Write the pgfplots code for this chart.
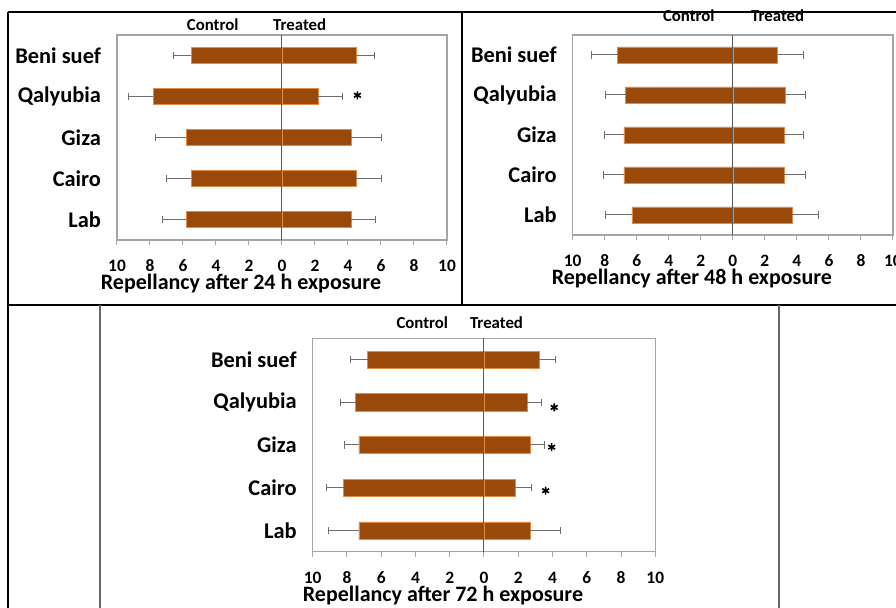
\documentclass[border=0pt]{standalone}
\usepackage{pgfplots}
\usepackage{pgfplotstable}
\pgfplotsset{compat=1.18}
\usepackage{fontspec}
\setmainfont{Carlito}

\definecolor{barfill}{RGB}{153,74,10}
\definecolor{baredge}{RGB}{225,140,70}
\definecolor{framegray}{RGB}{165,165,165}
\definecolor{errgray}{RGB}{110,110,110}

\pgfplotstableread{
y  c    ce    t    te
5  5.5  1.07  4.5  1.10
4  7.8  1.50  2.2  1.48
3  5.8  1.88  4.2  1.86
2  5.5  1.50  4.5  1.56
1  5.8  1.47  4.2  1.48
}\dataA
\pgfplotstableread{
y  c    ce    t    te
5  7.2  1.60  2.8  1.63
4  6.7  1.26  3.3  1.25
3  6.8  1.23  3.2  1.21
2  6.8  1.30  3.2  1.35
1  6.3  1.63  3.7  1.67
}\dataB
\pgfplotstableread{
y  c    ce    t    te
5  6.8  1.00  3.2  1.00
4  7.5  0.86  2.5  0.84
3  7.3  0.83  2.7  0.82
2  8.2  1.02  1.8  1.00
1  7.3  1.77  2.7  1.75
}\dataC

\tikzset{hdr/.style={font=\fontsize{8.4}{10}\selectfont\bfseries, anchor=base}}

\pgfplotsset{
  rep/.style={
    scale only axis,
    xmin=-10, xmax=10, ymin=0.5, ymax=5.5,
    xtick={-10,-8,...,10},
    xticklabels={10,8,6,4,2,0,2,4,6,8,10},
    ytick={1,2,3,4,5},
    yticklabels={Lab,Cairo\hspace{0.3em},Giza,Qalyubia,Beni suef},
    axis line style={framegray, line width=0.6pt},
    xtick pos=left,
    ytick pos=left,
    tick align=outside,
    x tick style={framegray, line width=0.5pt},
    y tick style={draw=none},
    major tick length=2.5pt,
    xticklabel style={font=\fontsize{8.7}{10}\selectfont\bfseries, anchor=base, yshift=-13.5pt},
    yticklabel style={font=\fontsize{11.2}{13}\selectfont\bfseries, anchor=east, xshift=-2pt},
    extra x ticks={0}, extra x tick labels={},
    extra x tick style={grid=major, major grid style={black!65, line width=0.5pt}, major tick length=0pt},
    axis on top,
    xlabel style={font=\fontsize{11}{13}\selectfont\bfseries, at={(axis description cs:0.5,0)}, anchor=base, yshift=-25pt, xshift=-20.5pt},
    clip=false,
  },
  ctrl/.style={xbar, bar width=0.4, bar shift=0pt, fill=barfill, draw=baredge, line width=0.3pt,
    error bars/.cd, x dir=minus, x explicit, error mark=|,
    error bar style={errgray, line width=0.5pt},
    error mark options={errgray, mark size=1.8pt, line width=0.5pt}},
  trt/.style={xbar, bar width=0.4, bar shift=0pt, fill=barfill, draw=baredge, line width=0.3pt,
    error bars/.cd, x dir=plus, x explicit, error mark=|,
    error bar style={errgray, line width=0.5pt},
    error mark options={errgray, mark size=1.8pt, line width=0.5pt}},
  star/.style={only marks, mark=asterisk, mark size=2pt, line width=0.8pt, black},
}

\begin{document}
\begin{tikzpicture}
% panel borders (1 px = 0.5pt)
\begin{scope}[x=0.5pt, y=-0.5pt]
\draw[line width=0.75pt, black] (8,12) -- (896,12);
\draw[line width=0.75pt, black] (8,305) -- (896,305);
\draw[line width=0.75pt, black] (8,12) -- (8,608);
\draw[line width=0.75pt, black] (462,12) -- (462,305);
\draw[line width=0.75pt, black!60] (100,305) -- (100,608);
\draw[line width=0.75pt, black!60] (779,305) -- (779,608);
\end{scope}

% Panel 1: 24 h
\begin{axis}[rep, at={(58.5pt,-120pt)}, anchor=south west, width=165pt, height=102.5pt,
  xlabel={Repellancy after 24 h exposure}]
\addplot[ctrl] table[x expr=-\thisrow{c}, y=y, x error=ce] {\dataA};
\addplot[trt] table[x=t, y=y, x error=te] {\dataA};
\addplot[star] coordinates {(4.57,4.03)};
\node[hdr] at (axis cs:-4.2,5.5) [yshift=2.5pt] {Control};
\node[hdr] at (axis cs:1.07,5.5) [yshift=2.5pt] {Treated};
\end{axis}

% Panel 2: 48 h
\begin{axis}[rep, at={(286.35pt,-117.5pt)}, anchor=south west, width=160.15pt, height=100pt,
  xlabel={Repellancy after 48 h exposure}]
\addplot[ctrl] table[x expr=-\thisrow{c}, y=y, x error=ce] {\dataB};
\addplot[trt] table[x=t, y=y, x error=te] {\dataB};
\node[hdr] at (axis cs:-2.75,5.5) [yshift=6.5pt] {Control};
\node[hdr] at (axis cs:2.8,5.5) [yshift=6.5pt] {Treated};
\end{axis}

% Panel 3: 72 h
\begin{axis}[rep, at={(156.35pt,-275.85pt)}, anchor=south west, width=171.3pt, height=106.7pt,
  xlabel={Repellancy after 72 h exposure}]
\addplot[ctrl] table[x expr=-\thisrow{c}, y=y, x error=ce] {\dataC};
\addplot[trt] table[x=t, y=y, x error=te] {\dataC};
\addplot[star] coordinates {(4.1,3.88) (3.95,2.95) (3.6,1.93)};
\node[hdr] at (axis cs:-3.6,5.5) [yshift=5pt] {Control};
\node[hdr] at (axis cs:0.73,5.5) [yshift=5pt] {Treated};
\end{axis}

\pgfresetboundingbox
\path[use as bounding box] (0pt,0pt) rectangle (448pt,-304pt);
\end{tikzpicture}
\end{document}
